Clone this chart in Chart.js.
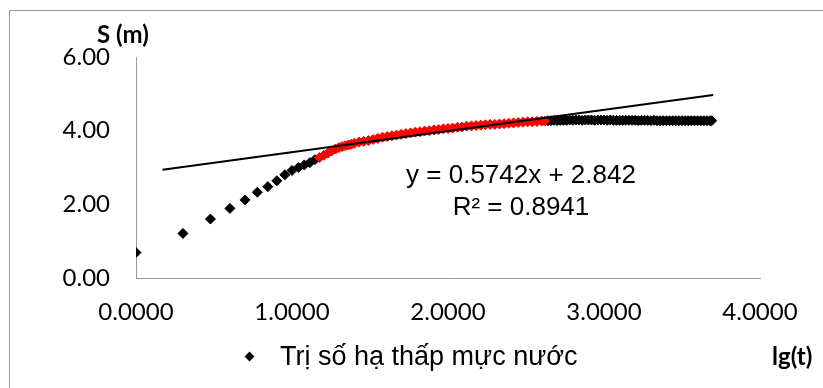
<!DOCTYPE html>
<html lang="vi">
<head>
<meta charset="UTF-8">
<title>S - lg(t)</title>
<style>
  body { margin: 0; background: #fff; overflow: hidden; }
  #wrap { position: relative; width: 823px; height: 388px; overflow: hidden; }
  #frame { position: absolute; left: 9px; top: 10px; width: 900px; height: 500px; border: 1px solid #9a9a9a; }
  canvas { position: absolute; left: 0; top: 0; }
  .lbl { position: absolute; white-space: nowrap; color: #000; }
  .axisTitle { font-family: 'Lato', sans-serif; font-weight: bold; font-size: 24px; line-height: 24px; }
  #eq { font-family: 'Liberation Sans', Arial, sans-serif; font-size: 26px; line-height: 32px; text-align: center; width: 300px; left: 371px; top: 158px; }
  #legend { font-family: 'Liberation Sans', Arial, sans-serif; font-size: 27px; line-height: 32px; left: 246px; top: 340px; }
  #legend .mark { display: inline-block; width: 7px; height: 7px; background: #000; transform: rotate(45deg); margin-right: 27px; vertical-align: 5px; }
</style>
</head>
<body>
<div id="wrap">
  <div id="frame"></div>
  <canvas id="chart" width="823" height="388"></canvas>
  <div class="lbl axisTitle" style="left:97px; top:22px;">S (m)</div>
  <div class="lbl axisTitle" style="left:772px; top:344px;">lg(t)</div>
  <div class="lbl" id="eq">y = 0.5742x + 2.842<br>R² = 0.8941</div>
  <div class="lbl" id="legend"><span class="mark"></span>Trị số hạ thấp mực nước</div>
</div>

<script src="https://cdn.jsdelivr.net/npm/chart.js"></script>
<script>
  // lg(t) and S (m), black points (early part and tail)
  const blackX = [0, 0.301, 0.477, 0.602, 0.699, 0.778, 0.845, 0.903, 0.954, 1.000, 1.041, 1.079, 1.114, 1.146,
    2.64, 2.66, 2.68, 2.70, 2.72, 2.74, 2.76, 2.78, 2.80, 2.82, 2.84, 2.86, 2.88, 2.90, 2.92, 2.94, 2.96, 2.98,
    3.00, 3.02, 3.04, 3.06, 3.08, 3.10, 3.12, 3.14, 3.16, 3.18, 3.20, 3.22, 3.24, 3.26, 3.28, 3.30, 3.32, 3.34,
    3.36, 3.38, 3.40, 3.42, 3.44, 3.46, 3.48, 3.50, 3.52, 3.54, 3.56, 3.58, 3.60, 3.62, 3.64, 3.66, 3.68, 3.69];
  const blackY = [0.69, 1.21, 1.60, 1.89, 2.12, 2.33, 2.48, 2.64, 2.80, 2.92, 3.00, 3.07, 3.13, 3.21,
    4.27, 4.27, 4.28, 4.27, 4.28, 4.28, 4.28, 4.29, 4.28, 4.29, 4.29, 4.28, 4.29, 4.29, 4.29, 4.28, 4.29, 4.29,
    4.29, 4.28, 4.29, 4.28, 4.28, 4.28, 4.28, 4.28, 4.28, 4.28, 4.28, 4.27, 4.28, 4.28, 4.28, 4.27, 4.28, 4.27,
    4.27, 4.27, 4.27, 4.27, 4.27, 4.27, 4.27, 4.27, 4.27, 4.27, 4.27, 4.27, 4.27, 4.27, 4.27, 4.27, 4.27, 4.27];

  // points used for the regression (red)
  const redX = [1.176, 1.204, 1.230, 1.255, 1.279, 1.301, 1.322, 1.342, 1.362, 1.380, 1.40, 1.43, 1.46, 1.49,
    1.52, 1.55, 1.58, 1.61, 1.64, 1.67, 1.70, 1.73, 1.76, 1.79, 1.82, 1.85, 1.88, 1.91, 1.94, 1.97, 2.00, 2.03,
    2.06, 2.09, 2.12, 2.15, 2.18, 2.21, 2.24, 2.27, 2.30, 2.33, 2.36, 2.39, 2.42, 2.45, 2.48, 2.51, 2.54, 2.57,
    2.60, 2.62];
  const redY = [3.27, 3.33, 3.39, 3.45, 3.50, 3.54, 3.57, 3.59, 3.61, 3.63, 3.66, 3.69, 3.71, 3.73,
    3.76, 3.79, 3.82, 3.84, 3.86, 3.88, 3.90, 3.92, 3.94, 3.96, 3.97, 3.99, 4.00, 4.02, 4.03, 4.05, 4.06, 4.07,
    4.09, 4.10, 4.12, 4.13, 4.14, 4.15, 4.16, 4.17, 4.17, 4.18, 4.19, 4.20, 4.21, 4.22, 4.23, 4.24, 4.24, 4.25,
    4.26, 4.26];

  // linear trend y = 0.5742x + 2.842
  const trendX = [0.17, 3.70];
  const trendY = [2.940, 4.966];

  const xTicks = [0, 1, 2, 3, 4];
  const yTicks = [0, 2, 4, 6];

  function toPoints(xs, ys) {
    return xs.map((x, i) => ({ x: x, y: ys[i] }));
  }

  const tickFont = { family: 'Lato', size: 24 };

  new Chart(document.getElementById('chart').getContext('2d'), {
    type: 'scatter',
    data: {
      datasets: [{
        label: 'trend',
        data: toPoints(trendX, trendY),
        showLine: true,
        borderColor: '#000',
        borderWidth: 2,
        pointRadius: 0
      }, {
        label: 'fit',
        data: toPoints(redX, redY),
        pointStyle: 'rectRot',
        pointRadius: 5,
        backgroundColor: '#ff0000',
        borderColor: '#ff0000',
        borderWidth: 1
      }, {
        label: 'Trị số hạ thấp mực nước',
        data: toPoints(blackX, blackY),
        pointStyle: 'rectRot',
        pointRadius: 5,
        backgroundColor: '#000',
        borderColor: '#000',
        borderWidth: 1
      }]
    },
    options: {
      responsive: false,
      animation: false,
      events: [],
      layout: { padding: { top: 57, right: 63, left: 0, bottom: 0 } },
      plugins: { legend: { display: false }, tooltip: { enabled: false } },
      scales: {
        x: {
          type: 'linear',
          min: xTicks[0],
          max: xTicks[xTicks.length - 1],
          afterBuildTicks: s => { s.ticks = xTicks.map(v => ({ value: v })); },
          ticks: { callback: v => v.toFixed(4), padding: 20, font: tickFont, color: '#000', maxRotation: 0 },
          grid: { display: false, drawTicks: false },
          border: { color: '#9a9a9a', width: 1 },
          afterFit: s => { s.height = 110; }
        },
        y: {
          min: yTicks[0],
          max: yTicks[yTicks.length - 1],
          afterBuildTicks: s => { s.ticks = yTicks.map(v => ({ value: v })); },
          ticks: { callback: v => v.toFixed(2), padding: 26, font: tickFont, color: '#000' },
          grid: { display: false, drawTicks: false },
          border: { color: '#9a9a9a', width: 1 },
          afterFit: s => { s.width = 136; }
        }
      }
    }
  });
</script>
</body>
</html>
